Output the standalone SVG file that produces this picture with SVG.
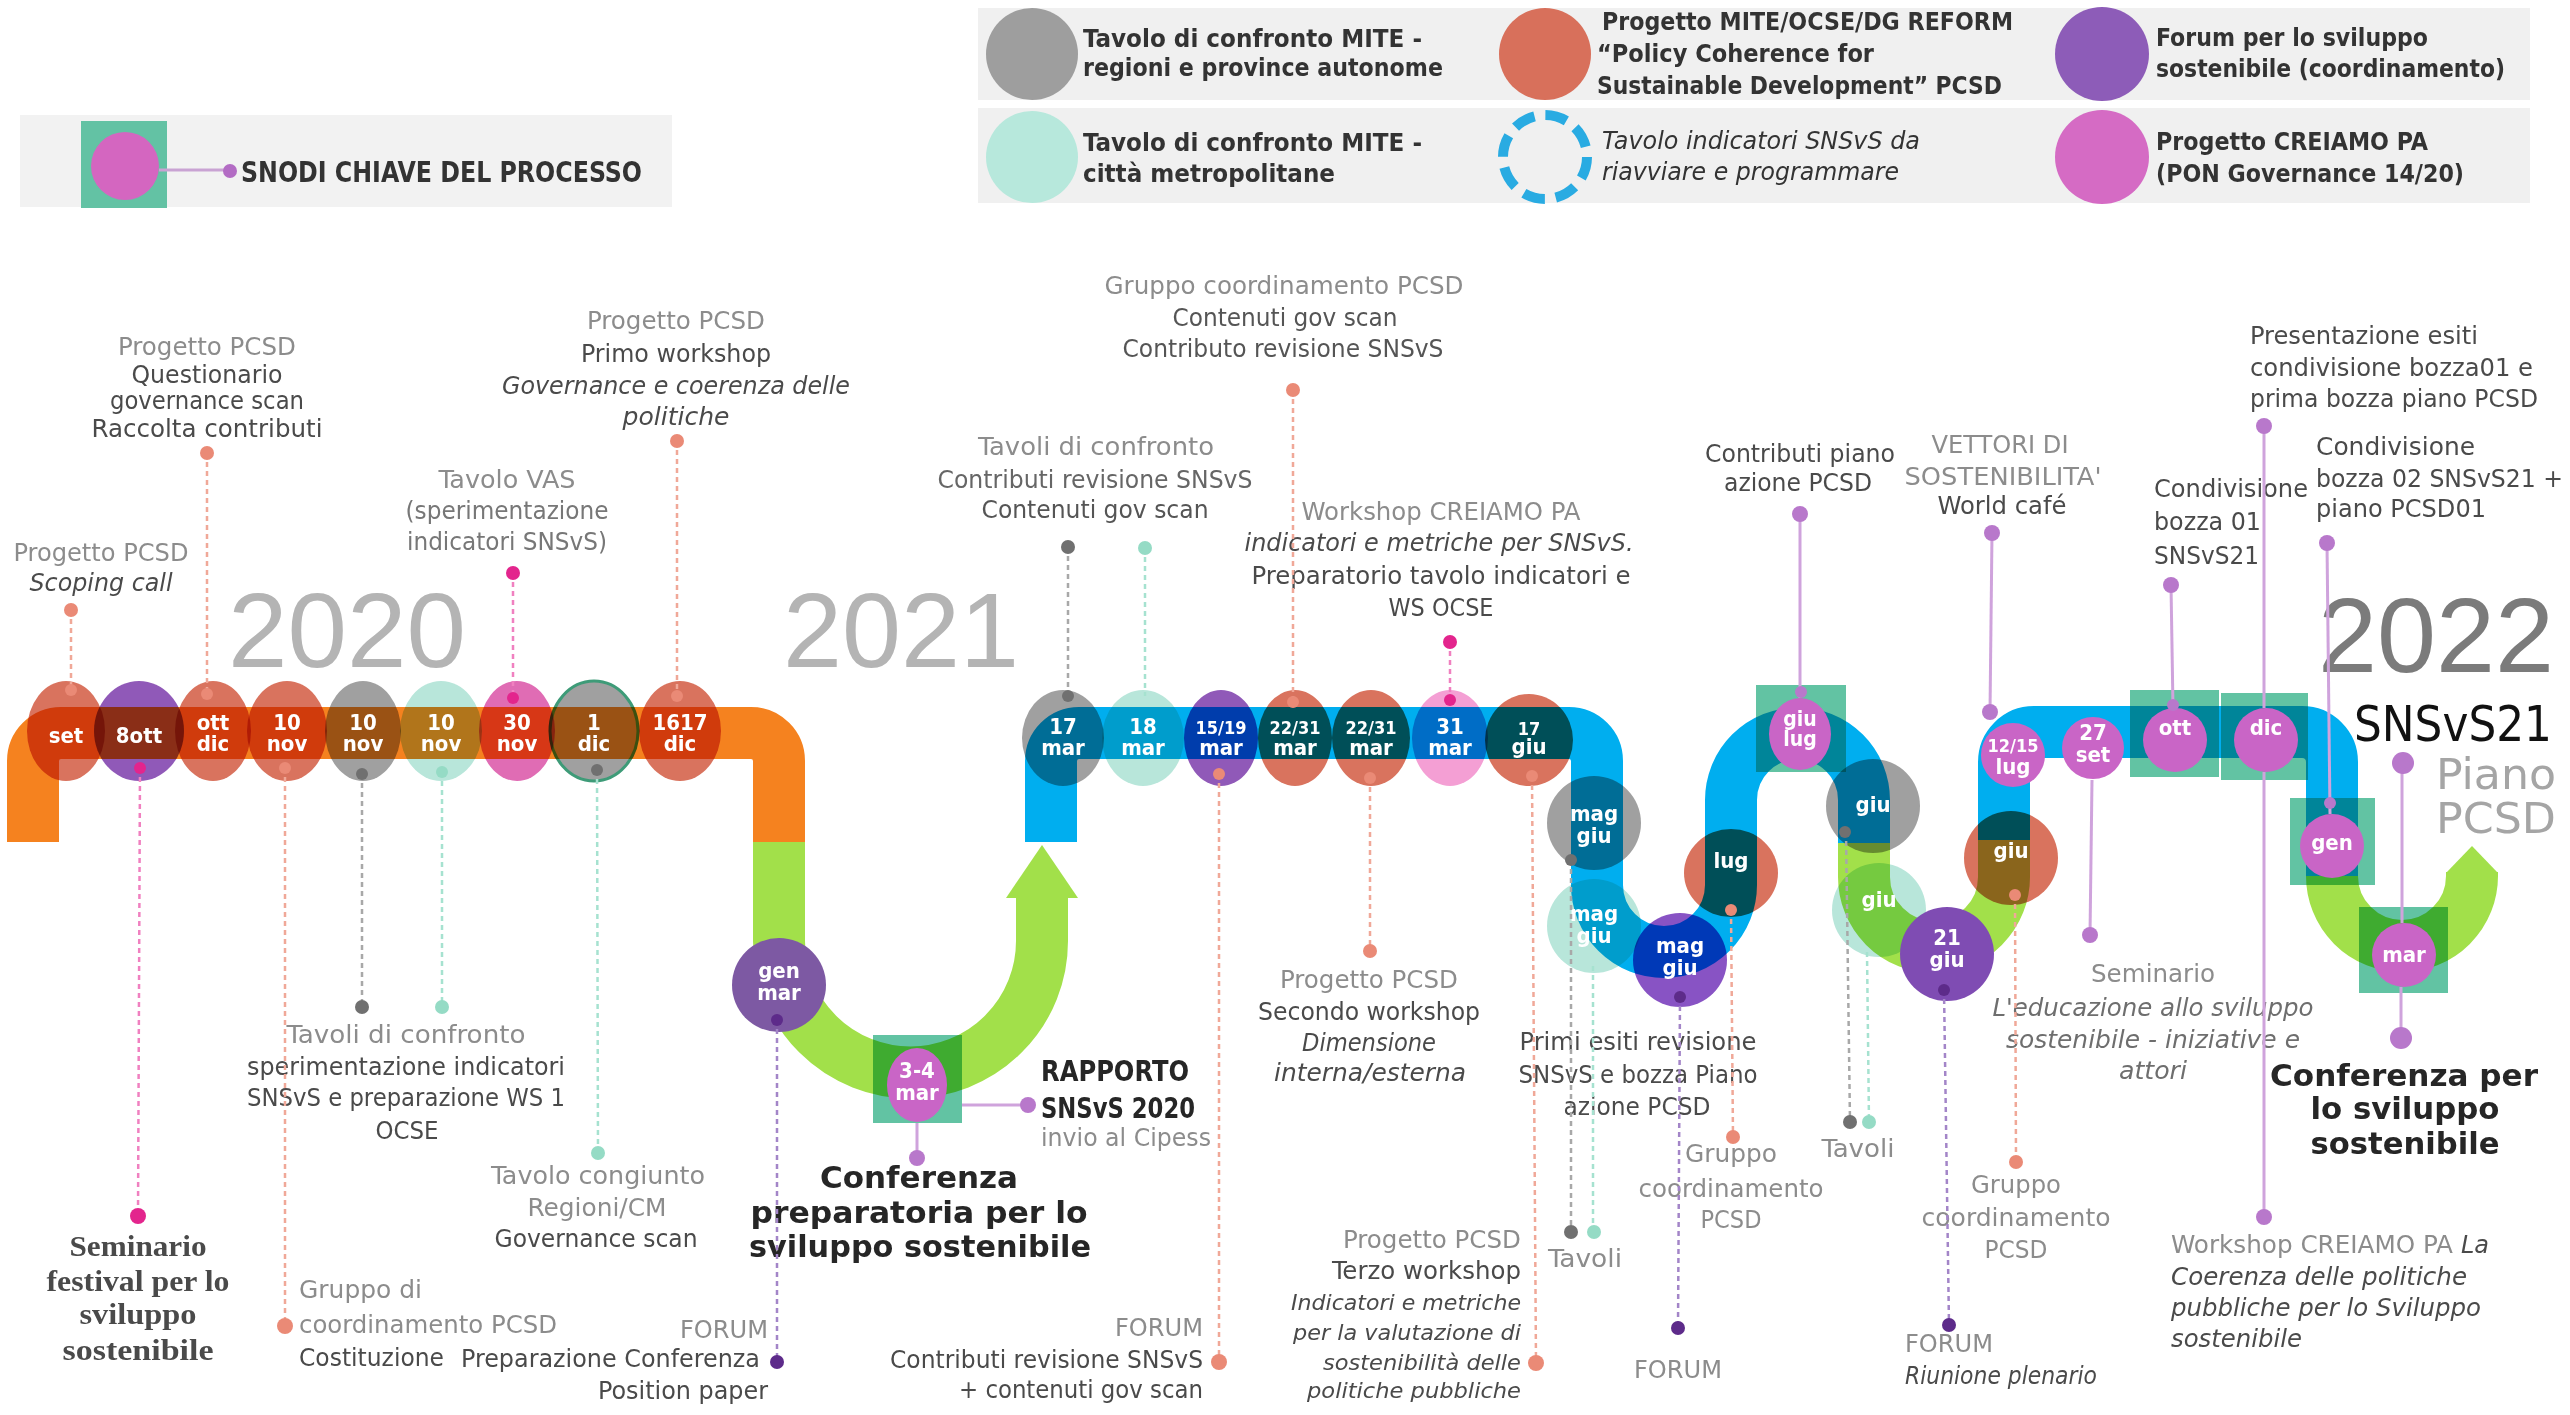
<svg xmlns="http://www.w3.org/2000/svg" width="2570" height="1415" viewBox="0 0 2570 1415">
<style>
.t{font-family:"DejaVu Sans Condensed","DejaVu Sans","Liberation Sans",sans-serif;font-size:25px}
.s{font-family:"Liberation Serif",serif;font-weight:bold;font-size:29px;fill:#4a4a4a;text-anchor:middle}
.g{fill:#8c8c8c}
.g2{fill:#777}
.d{fill:#4a4a4a}
.k{fill:#262626}
.i{font-style:italic}
.b{font-weight:bold}
.m{text-anchor:middle}
.e{text-anchor:end}
.w{font-family:"DejaVu Sans Condensed","DejaVu Sans",sans-serif;fill:#fff;font-weight:bold;text-anchor:middle;font-size:22px}
.sm{font-size:18px}
.mb{mix-blend-mode:multiply}
.band{fill:none;stroke-width:52}
.dl{fill:none;stroke-width:2.5;stroke-dasharray:5 4}
.sl{fill:none;stroke-width:3}
.lg{font-family:"DejaVu Sans Condensed","DejaVu Sans",sans-serif;font-size:24px;font-weight:bold;fill:#333}
.yr{font-family:"Liberation Sans","DejaVu Sans",sans-serif;font-size:106px}
.cs{stroke:#f0a898}.cm{stroke:#f080c0}.cg{stroke:#a8a8a8}.ct{stroke:#a6e2d0}.cp{stroke:#a385c8}.cl{stroke:#cfa3dc}
.fs{fill:#ea8a76}.fm{fill:#e3258d}.fg{fill:#707070}.ft{fill:#95dbc5}.fp{fill:#5d2b8a}.fl{fill:#b878cb}
.sal{fill:#d9735e}.pur{fill:#9059b8}.gry{fill:#a0a0a0}.mnt{fill:#b8e6da}.mag{fill:#c965c6}.sq{fill:#62c3a3}
</style>
<rect width="2570" height="1415" fill="#fff"/>

<g id="legend-key">
<rect x="20" y="115" width="652" height="92" fill="#f2f2f2"/>
<rect x="81" y="121" width="86" height="87" fill="#63c2a4"/>
<circle cx="125" cy="166" r="34" fill="#d466c0"/>
<line x1="159" y1="170" x2="230" y2="170" stroke="#c9a3d3" stroke-width="3"/>
<circle cx="230" cy="171" r="7" fill="#b36cc4"/>
<text x="241" y="182" class="lg" style="font-size:28px" textLength="401" lengthAdjust="spacingAndGlyphs">SNODI CHIAVE DEL PROCESSO</text>
</g>

<g id="legend">
<rect x="978" y="8" width="1552" height="92" fill="#f0f0f0"/>
<rect x="978" y="108" width="1552" height="95" fill="#f0f0f0"/>
<circle cx="1032" cy="54" r="46" fill="#9e9e9e"/>
<text class="lg" x="1083" y="47" textLength="339" lengthAdjust="spacingAndGlyphs">Tavolo di confronto MITE -</text>
<text class="lg" x="1083" y="76" textLength="360" lengthAdjust="spacingAndGlyphs">regioni e province autonome</text>
<circle cx="1032" cy="157" r="46" fill="#b7e8dc"/>
<text class="lg" x="1083" y="151" textLength="339" lengthAdjust="spacingAndGlyphs">Tavolo di confronto MITE -</text>
<text class="lg" x="1083" y="182" textLength="252" lengthAdjust="spacingAndGlyphs">città metropolitane</text>
<circle cx="1545" cy="54" r="46" fill="#d8705b"/>
<text class="lg" x="1602" y="30" textLength="411" lengthAdjust="spacingAndGlyphs">Progetto MITE/OCSE/DG REFORM</text>
<text class="lg" x="1597" y="62" textLength="277" lengthAdjust="spacingAndGlyphs">“Policy Coherence for</text>
<text class="lg" x="1597" y="94" textLength="405" lengthAdjust="spacingAndGlyphs">Sustainable Development” PCSD</text>
<circle cx="1545" cy="157" r="42" fill="none" stroke="#29abe2" stroke-width="10" stroke-dasharray="22 11"/>
<text class="lg i" style="font-weight:normal" x="1602" y="149" textLength="318" lengthAdjust="spacingAndGlyphs">Tavolo indicatori SNSvS da</text>
<text class="lg i" style="font-weight:normal" x="1602" y="180" textLength="297" lengthAdjust="spacingAndGlyphs">riavviare e programmare</text>
<circle cx="2102" cy="54" r="47" fill="#8d5cb8"/>
<text class="lg" x="2156" y="46" textLength="272" lengthAdjust="spacingAndGlyphs">Forum per lo sviluppo</text>
<text class="lg" x="2156" y="77" textLength="349" lengthAdjust="spacingAndGlyphs">sostenibile (coordinamento)</text>
<circle cx="2102" cy="157" r="47" fill="#d56bc4"/>
<text class="lg" x="2156" y="150" textLength="272" lengthAdjust="spacingAndGlyphs">Progetto CREIAMO PA</text>
<text class="lg" x="2156" y="182" textLength="308" lengthAdjust="spacingAndGlyphs">(PON Governance 14/20)</text>
</g>

<g id="years">
<text class="yr" x="228" y="667" fill="#b4b4b4" textLength="238" lengthAdjust="spacingAndGlyphs">2020</text>
<text class="yr" x="783" y="667" fill="#b4b4b4" textLength="236" lengthAdjust="spacingAndGlyphs">2021</text>
<text class="yr" x="2318" y="672" fill="#7b7b7b" textLength="236" lengthAdjust="spacingAndGlyphs">2022</text>
</g>

<g id="timeline-band">
<path class="band" stroke="#f5821f" d="M33,842 V761 A28,28 0 0 1 61,733 H751 A28,28 0 0 1 779,761 V842"/>
<path class="band" stroke="#a2e04a" d="M779,842 V941 A131.5,131.5 0 0 0 1042,941 V897"/>
<polygon fill="#a2e04a" points="1006,898 1042,845 1078,898"/>
<path class="band" stroke="#00aeef" d="M1051,842 V761 A28,28 0 0 1 1079,733 H1569 A28,28 0 0 1 1597,761 V885 A67,67 0 0 0 1731,885 V800 A66.5,66.5 0 0 1 1864,800 V843"/>
<path class="band" stroke="#a2e04a" d="M1864,843 V877 A70,70 0 0 0 2004,877 V840"/>
<path class="band" stroke="#00aeef" d="M2004,840 V762 A30,30 0 0 1 2034,732 H2302 A30,30 0 0 1 2332,762 V876"/>
<path class="band" stroke="#a2e04a" d="M2332,876 A70,70 0 0 0 2472,876 V872"/>
<polygon fill="#a2e04a" points="2446,873 2472,846 2498,873"/>
</g>

<g id="n-set"><ellipse class="mb sal" cx="66" cy="731" rx="39" ry="50"/><text class="w" x="66" y="743">set</text>
<text class="t g m" x="101" y="561" textLength="175" lengthAdjust="spacingAndGlyphs">Progetto PCSD</text>
<text class="t d i m" x="101" y="591" textLength="143" lengthAdjust="spacingAndGlyphs">Scoping call</text></g>

<g id="n-8ott"><ellipse class="mb pur" cx="139" cy="731" rx="45" ry="50"/><text class="w" x="139" y="743">8ott</text>
<text class="s" x="138" y="1256" textLength="137" lengthAdjust="spacingAndGlyphs">Seminario</text>
<text class="s" x="138" y="1291" textLength="183" lengthAdjust="spacingAndGlyphs">festival per lo</text>
<text class="s" x="138" y="1324" textLength="117" lengthAdjust="spacingAndGlyphs">sviluppo</text>
<text class="s" x="138" y="1360" textLength="151" lengthAdjust="spacingAndGlyphs">sostenibile</text></g>

<g id="n-ottdic"><ellipse class="mb sal" cx="213" cy="731" rx="38" ry="50"/><text class="w" x="213" y="730">ott</text><text class="w" x="213" y="751">dic</text>
<text class="t g m" x="207" y="355" textLength="178" lengthAdjust="spacingAndGlyphs">Progetto PCSD</text>
<text class="t d m" x="207" y="383" textLength="151" lengthAdjust="spacingAndGlyphs">Questionario</text>
<text class="t d m" x="207" y="409" textLength="194" lengthAdjust="spacingAndGlyphs">governance scan</text>
<text class="t d m" x="207" y="437" textLength="231" lengthAdjust="spacingAndGlyphs">Raccolta contributi</text></g>

<g id="n-10nov-a"><ellipse class="mb sal" cx="287" cy="731" rx="40" ry="50"/><text class="w" x="287" y="730">10</text><text class="w" x="287" y="751">nov</text>
<text class="t g" x="299" y="1298" textLength="123" lengthAdjust="spacingAndGlyphs">Gruppo di</text>
<text class="t g" x="299" y="1333" textLength="258" lengthAdjust="spacingAndGlyphs">coordinamento PCSD</text>
<text class="t d" x="299" y="1366" textLength="145" lengthAdjust="spacingAndGlyphs">Costituzione</text></g>

<g id="n-10nov-b"><ellipse class="mb gry" cx="363" cy="731" rx="38" ry="50"/><text class="w" x="363" y="730">10</text><text class="w" x="363" y="751">nov</text>
<text class="t g m" x="406" y="1043" textLength="239" lengthAdjust="spacingAndGlyphs">Tavoli di confronto</text>
<text class="t d m" x="406" y="1075" textLength="318" lengthAdjust="spacingAndGlyphs">sperimentazione indicatori</text>
<text class="t d m" x="406" y="1106" textLength="318" lengthAdjust="spacingAndGlyphs">SNSvS e preparazione WS 1</text>
<text class="t d m" x="407" y="1139" textLength="63" lengthAdjust="spacingAndGlyphs">OCSE</text></g>

<g id="n-10nov-c"><ellipse class="mb mnt" cx="441" cy="731" rx="41" ry="50"/><text class="w" x="441" y="730">10</text><text class="w" x="441" y="751">nov</text></g>

<g id="n-30nov"><ellipse class="mb" fill="#e06cb4" cx="517" cy="731" rx="38" ry="50"/><text class="w" x="517" y="730">30</text><text class="w" x="517" y="751">nov</text>
<text class="t g m" x="507" y="488" textLength="137" lengthAdjust="spacingAndGlyphs">Tavolo VAS</text>
<text class="t g2 m" x="507" y="519" textLength="203" lengthAdjust="spacingAndGlyphs">(sperimentazione</text>
<text class="t g2 m" x="507" y="550" textLength="200" lengthAdjust="spacingAndGlyphs">indicatori SNSvS)</text></g>

<g id="n-1dic"><ellipse class="mb gry" cx="594" cy="731" rx="44" ry="50" stroke="#3e9b78" stroke-width="3"/><text class="w" x="594" y="730">1</text><text class="w" x="594" y="751">dic</text>
<text class="t g m" x="598" y="1184" textLength="214" lengthAdjust="spacingAndGlyphs">Tavolo congiunto</text>
<text class="t g m" x="597" y="1216" textLength="139" lengthAdjust="spacingAndGlyphs">Regioni/CM</text>
<text class="t d m" x="596" y="1247" textLength="203" lengthAdjust="spacingAndGlyphs">Governance scan</text></g>

<g id="n-1617dic"><ellipse class="mb sal" cx="680" cy="731" rx="41" ry="50"/><text class="w" x="680" y="730">1617</text><text class="w" x="680" y="751">dic</text>
<text class="t g m" x="676" y="329" textLength="178" lengthAdjust="spacingAndGlyphs">Progetto PCSD</text>
<text class="t d m" x="676" y="362" textLength="190" lengthAdjust="spacingAndGlyphs">Primo workshop</text>
<text class="t d i m" x="676" y="394" textLength="348" lengthAdjust="spacingAndGlyphs">Governance e coerenza delle</text>
<text class="t d i m" x="676" y="425" textLength="107" lengthAdjust="spacingAndGlyphs">politiche</text></g>

<g id="n-genmar"><circle fill="#7d59a3" cx="779" cy="985" r="47"/><text class="w" x="779" y="978">gen</text><text class="w" x="779" y="1000">mar</text>
<text class="t g e" x="768" y="1338" textLength="88" lengthAdjust="spacingAndGlyphs">FORUM</text>
<text class="t d e" x="760" y="1367" textLength="299" lengthAdjust="spacingAndGlyphs">Preparazione Conferenza</text>
<text class="t d e" x="768" y="1399" textLength="170" lengthAdjust="spacingAndGlyphs">Position paper</text></g>

<g id="n-34mar"><rect class="mb sq" x="873" y="1035" width="89" height="88"/><ellipse class="mag" cx="917" cy="1085" rx="30" ry="37"/><text class="w" x="917" y="1078">3-4</text><text class="w" x="917" y="1100">mar</text>
<text class="t k b" style="font-size:28px" x="1041" y="1081" textLength="148" lengthAdjust="spacingAndGlyphs">RAPPORTO</text>
<text class="t k b" style="font-size:28px" x="1041" y="1118" textLength="154" lengthAdjust="spacingAndGlyphs">SNSvS 2020</text>
<text class="t g" x="1041" y="1146" textLength="170" lengthAdjust="spacingAndGlyphs">invio al Cipess</text>
<text class="t k b m" style="font-size:31px" x="919" y="1188" textLength="198" lengthAdjust="spacingAndGlyphs">Conferenza</text>
<text class="t k b m" style="font-size:31px" x="919" y="1223" textLength="337" lengthAdjust="spacingAndGlyphs">preparatoria per lo</text>
<text class="t k b m" style="font-size:31px" x="920" y="1257" textLength="342" lengthAdjust="spacingAndGlyphs">sviluppo sostenibile</text></g>

<g id="n-17mar"><ellipse class="mb gry" cx="1063" cy="738" rx="41" ry="48"/><text class="w" x="1063" y="734">17</text><text class="w" x="1063" y="755">mar</text>
<text class="t g m" x="1096" y="455" textLength="236" lengthAdjust="spacingAndGlyphs">Tavoli di confronto</text>
<text class="t m" fill="#666" x="1095" y="488" textLength="315" lengthAdjust="spacingAndGlyphs">Contributi revisione SNSvS</text>
<text class="t m" fill="#555" x="1095" y="518" textLength="227" lengthAdjust="spacingAndGlyphs">Contenuti gov scan</text></g>

<g id="n-18mar"><ellipse class="mb mnt" cx="1143" cy="738" rx="41" ry="48"/><text class="w" x="1143" y="734">18</text><text class="w" x="1143" y="755">mar</text></g>

<g id="n-1519mar"><ellipse class="mb pur" cx="1221" cy="738" rx="37" ry="48"/><text class="w sm" x="1221" y="734">15/19</text><text class="w" x="1221" y="755">mar</text>
<text class="t g e" x="1203" y="1336" textLength="88" lengthAdjust="spacingAndGlyphs">FORUM</text>
<text class="t d e" x="1203" y="1368" textLength="313" lengthAdjust="spacingAndGlyphs">Contributi revisione SNSvS</text>
<text class="t d e" x="1203" y="1398" textLength="244" lengthAdjust="spacingAndGlyphs">+ contenuti gov scan</text></g>

<g id="n-2231mar-a"><ellipse class="mb sal" cx="1295" cy="738" rx="37" ry="48"/><text class="w sm" x="1295" y="734">22/31</text><text class="w" x="1295" y="755">mar</text>
<text class="t g m" x="1284" y="294" textLength="359" lengthAdjust="spacingAndGlyphs">Gruppo coordinamento PCSD</text>
<text class="t m" fill="#555" x="1285" y="326" textLength="225" lengthAdjust="spacingAndGlyphs">Contenuti gov scan</text>
<text class="t m" fill="#555" x="1283" y="357" textLength="321" lengthAdjust="spacingAndGlyphs">Contributo revisione SNSvS</text></g>

<g id="n-2231mar-b"><ellipse class="mb sal" cx="1371" cy="738" rx="39" ry="48"/><text class="w sm" x="1371" y="734">22/31</text><text class="w" x="1371" y="755">mar</text>
<text class="t g m" x="1369" y="988" textLength="178" lengthAdjust="spacingAndGlyphs">Progetto PCSD</text>
<text class="t d m" x="1369" y="1020" textLength="222" lengthAdjust="spacingAndGlyphs">Secondo workshop</text>
<text class="t d i m" x="1369" y="1051" textLength="134" lengthAdjust="spacingAndGlyphs">Dimensione</text>
<text class="t d i m" x="1370" y="1081" textLength="192" lengthAdjust="spacingAndGlyphs">interna/esterna</text></g>

<g id="n-31mar"><ellipse class="mb" fill="#f49fd4" cx="1450" cy="738" rx="38" ry="48"/><text class="w" x="1450" y="734">31</text><text class="w" x="1450" y="755">mar</text>
<text class="t g m" x="1441" y="520" textLength="279" lengthAdjust="spacingAndGlyphs">Workshop CREIAMO PA</text>
<text class="t d i m" x="1439" y="551" textLength="389" lengthAdjust="spacingAndGlyphs">indicatori e metriche per SNSvS.</text>
<text class="t d m" x="1441" y="584" textLength="379" lengthAdjust="spacingAndGlyphs">Preparatorio tavolo indicatori e</text>
<text class="t d m" x="1441" y="616" textLength="105" lengthAdjust="spacingAndGlyphs">WS OCSE</text></g>

<g id="n-17giu"><ellipse class="mb sal" cx="1529" cy="740" rx="44" ry="46"/><text class="w sm" x="1529" y="735">17</text><text class="w" x="1529" y="754">giu</text>
<text class="t g e" x="1521" y="1248" textLength="178" lengthAdjust="spacingAndGlyphs">Progetto PCSD</text>
<text class="t d e" x="1521" y="1279" textLength="189" lengthAdjust="spacingAndGlyphs">Terzo workshop</text>
<text class="t d i e" style="font-size:22px" x="1521" y="1310" textLength="230" lengthAdjust="spacingAndGlyphs">Indicatori e metriche</text>
<text class="t d i e" style="font-size:22px" x="1521" y="1340" textLength="228" lengthAdjust="spacingAndGlyphs">per la valutazione di</text>
<text class="t d i e" style="font-size:22px" x="1521" y="1370" textLength="198" lengthAdjust="spacingAndGlyphs">sostenibilità delle</text>
<text class="t d i e" style="font-size:22px" x="1521" y="1398" textLength="214" lengthAdjust="spacingAndGlyphs">politiche pubbliche</text></g>

<g id="n-maggiu-gray"><circle class="mb gry" cx="1594" cy="823" r="47"/><text class="w" x="1594" y="821">mag</text><text class="w" x="1594" y="843">giu</text>
<text class="t g m" x="1585" y="1267" textLength="74" lengthAdjust="spacingAndGlyphs">Tavoli</text></g>

<g id="n-maggiu-mint"><circle class="mb mnt" cx="1594" cy="926" r="47"/><text class="w" x="1594" y="921">mag</text><text class="w" x="1594" y="943">giu</text></g>

<g id="n-maggiu-forum"><circle class="mb" fill="#8853c4" cx="1680" cy="960" r="47"/><text class="w" x="1680" y="953">mag</text><text class="w" x="1680" y="975">giu</text>
<text class="t d m" x="1638" y="1050" textLength="237" lengthAdjust="spacingAndGlyphs">Primi esiti revisione</text>
<text class="t d m" x="1638" y="1083" textLength="239" lengthAdjust="spacingAndGlyphs">SNSvS e bozza Piano</text>
<text class="t d m" x="1637" y="1115" textLength="147" lengthAdjust="spacingAndGlyphs">azione PCSD</text>
<text class="t g m" x="1678" y="1378" textLength="88" lengthAdjust="spacingAndGlyphs">FORUM</text></g>

<g id="n-lug"><ellipse class="mb sal" cx="1731" cy="873" rx="47" ry="44"/><text class="w" x="1731" y="868">lug</text>
<text class="t g m" x="1731" y="1162" textLength="92" lengthAdjust="spacingAndGlyphs">Gruppo</text>
<text class="t g m" x="1731" y="1197" textLength="185" lengthAdjust="spacingAndGlyphs">coordinamento</text>
<text class="t g m" x="1731" y="1228" textLength="61" lengthAdjust="spacingAndGlyphs">PCSD</text></g>

<g id="n-giulug"><rect class="mb sq" x="1756" y="685" width="90" height="87"/><ellipse class="mag" cx="1800" cy="734" rx="31" ry="36"/><text class="w" style="font-size:21px" x="1800" y="726">giu</text><text class="w" style="font-size:21px" x="1800" y="746">lug</text>
<text class="t d m" x="1800" y="462" textLength="190" lengthAdjust="spacingAndGlyphs">Contributi piano</text>
<text class="t d m" x="1798" y="491" textLength="148" lengthAdjust="spacingAndGlyphs">azione PCSD</text></g>

<g id="n-giu-gray"><circle class="mb gry" cx="1873" cy="806" r="47"/><text class="w" x="1873" y="812">giu</text>
<text class="t g m" x="1858" y="1157" textLength="73" lengthAdjust="spacingAndGlyphs">Tavoli</text></g>

<g id="n-giu-mint"><circle class="mb mnt" cx="1879" cy="910" r="47"/><text class="w" x="1879" y="907">giu</text></g>

<g id="n-21giu"><circle fill="#7f4cb3" cx="1947" cy="954" r="47"/><text class="w" x="1947" y="945">21</text><text class="w" x="1947" y="967">giu</text>
<text class="t g" x="1905" y="1352" textLength="88" lengthAdjust="spacingAndGlyphs">FORUM</text>
<text class="t d i" x="1905" y="1384" textLength="192" lengthAdjust="spacingAndGlyphs">Riunione plenario</text></g>

<g id="n-giu-sal"><circle class="mb sal" cx="2011" cy="858" r="47"/><text class="w" x="2011" y="858">giu</text>
<text class="t g m" x="2016" y="1193" textLength="90" lengthAdjust="spacingAndGlyphs">Gruppo</text>
<text class="t g m" x="2016" y="1226" textLength="189" lengthAdjust="spacingAndGlyphs">coordinamento</text>
<text class="t g m" x="2016" y="1258" textLength="63" lengthAdjust="spacingAndGlyphs">PCSD</text></g>

<g id="n-1215lug"><circle class="mag" cx="2013" cy="755" r="32"/><text class="w sm" x="2013" y="752">12/15</text><text class="w" x="2013" y="774">lug</text>
<text class="t g m" x="2000" y="453" textLength="137" lengthAdjust="spacingAndGlyphs">VETTORI DI</text>
<text class="t g m" x="2003" y="485" textLength="197" lengthAdjust="spacingAndGlyphs">SOSTENIBILITA'</text>
<text class="t d m" x="2002" y="514" textLength="129" lengthAdjust="spacingAndGlyphs">World café</text></g>

<g id="n-27set"><circle class="mag" cx="2093" cy="748" r="31"/><text class="w" x="2093" y="740">27</text><text class="w" x="2093" y="762">set</text>
<text class="t g m" x="2153" y="982" textLength="124" lengthAdjust="spacingAndGlyphs">Seminario</text>
<text class="t i m" fill="#6e6e6e" x="2153" y="1016" textLength="321" lengthAdjust="spacingAndGlyphs">L'educazione allo sviluppo</text>
<text class="t i m" fill="#6e6e6e" x="2153" y="1048" textLength="294" lengthAdjust="spacingAndGlyphs">sostenibile - iniziative e</text>
<text class="t i m" fill="#6e6e6e" x="2153" y="1079" textLength="68" lengthAdjust="spacingAndGlyphs">attori</text></g>

<g id="n-ott"><rect class="mb sq" x="2130" y="690" width="89" height="87"/><circle class="mag" cx="2175" cy="740" r="32"/><text class="w" x="2175" y="735">ott</text>
<text class="t d" x="2154" y="497" textLength="154" lengthAdjust="spacingAndGlyphs">Condivisione</text>
<text class="t d" x="2154" y="530" textLength="107" lengthAdjust="spacingAndGlyphs">bozza 01</text>
<text class="t d" x="2154" y="564" textLength="105" lengthAdjust="spacingAndGlyphs">SNSvS21</text></g>

<g id="n-dic"><rect class="mb sq" x="2221" y="693" width="87" height="87"/><circle class="mag" cx="2266" cy="740" r="32"/><text class="w" x="2266" y="735">dic</text>
<text class="t d" x="2250" y="344" textLength="228" lengthAdjust="spacingAndGlyphs">Presentazione esiti</text>
<text class="t d" x="2250" y="376" textLength="283" lengthAdjust="spacingAndGlyphs">condivisione bozza01  e</text>
<text class="t d" x="2250" y="407" textLength="288" lengthAdjust="spacingAndGlyphs">prima bozza piano PCSD</text>
<text class="t g" x="2171" y="1253" textLength="282" lengthAdjust="spacingAndGlyphs">Workshop CREIAMO PA</text>
<text class="t d i" x="2461" y="1253" textLength="28" lengthAdjust="spacingAndGlyphs">La</text>
<text class="t d i" x="2171" y="1285" textLength="296" lengthAdjust="spacingAndGlyphs">Coerenza delle politiche</text>
<text class="t d i" x="2171" y="1316" textLength="310" lengthAdjust="spacingAndGlyphs">pubbliche per lo Sviluppo</text>
<text class="t d i" x="2171" y="1347" textLength="131" lengthAdjust="spacingAndGlyphs">sostenibile</text></g>

<g id="n-gen"><rect class="mb sq" x="2290" y="798" width="85" height="87"/><circle class="mag" cx="2332" cy="846" r="32"/><text class="w" x="2332" y="850">gen</text>
<text class="t d" x="2316" y="455" textLength="159" lengthAdjust="spacingAndGlyphs">Condivisione</text>
<text class="t d" x="2316" y="487" textLength="247" lengthAdjust="spacingAndGlyphs">bozza 02 SNSvS21 +</text>
<text class="t d" x="2316" y="517" textLength="170" lengthAdjust="spacingAndGlyphs">piano PCSD01</text></g>

<g id="n-mar"><rect class="mb sq" x="2359" y="907" width="89" height="86"/><circle class="mag" cx="2404" cy="955" r="32"/><text class="w" x="2404" y="962">mar</text>
<text class="t" fill="#111" style="font-size:50px" x="2354" y="741" textLength="198" lengthAdjust="spacingAndGlyphs">SNSvS21</text>
<text class="t" fill="#a5a5a5" style="font-size:42px" x="2436" y="789" textLength="120" lengthAdjust="spacingAndGlyphs">Piano</text>
<text class="t" fill="#a5a5a5" style="font-size:42px" x="2436" y="833" textLength="120" lengthAdjust="spacingAndGlyphs">PCSD</text>
<text class="t k b m" style="font-size:31px" x="2404" y="1086" textLength="268" lengthAdjust="spacingAndGlyphs">Conferenza per</text>
<text class="t k b m" style="font-size:31px" x="2405" y="1119" textLength="189" lengthAdjust="spacingAndGlyphs">lo sviluppo</text>
<text class="t k b m" style="font-size:31px" x="2405" y="1154" textLength="189" lengthAdjust="spacingAndGlyphs">sostenibile</text></g>

<g id="connectors">
<g><path class="dl cs" d="M71,610V690"/><circle class="fs" cx="71" cy="610" r="7"/><circle class="fs" cx="71" cy="690" r="6"/></g>
<g><path class="dl cm" d="M140,768L138,1216"/><circle class="fm" cx="140" cy="768" r="6"/><circle class="fm" cx="138" cy="1216" r="8"/></g>
<g><path class="dl cs" d="M207,453V694"/><circle class="fs" cx="207" cy="453" r="7"/><circle class="fs" cx="207" cy="694" r="6"/></g>
<g><path class="dl cs" d="M285,768V1326"/><circle class="fs" cx="285" cy="768" r="6"/><circle class="fs" cx="285" cy="1326" r="8"/></g>
<g><path class="dl cg" d="M362,774V1007"/><circle class="fg" cx="362" cy="774" r="6"/><circle class="fg" cx="362" cy="1007" r="7"/></g>
<g><path class="dl ct" d="M442,772V1007"/><circle class="ft" cx="442" cy="772" r="6"/><circle class="ft" cx="442" cy="1007" r="7"/></g>
<g><path class="dl cm" d="M513,573V698"/><circle class="fm" cx="513" cy="573" r="7"/><circle class="fm" cx="513" cy="698" r="6"/></g>
<g><path class="dl ct" d="M597,770L598,1153"/><circle class="fg" cx="597" cy="770" r="6"/><circle class="ft" cx="598" cy="1153" r="7"/></g>
<g><path class="dl cs" d="M677,441V696"/><circle class="fs" cx="677" cy="441" r="7"/><circle class="fs" cx="677" cy="696" r="6"/></g>
<g><path class="dl cp" d="M777,1020V1362"/><circle class="fp" cx="777" cy="1020" r="6"/><circle class="fp" cx="777" cy="1362" r="7"/></g>
<g><path class="dl cg" d="M1068,547V696"/><circle class="fg" cx="1068" cy="547" r="7"/><circle class="fg" cx="1068" cy="696" r="6"/></g>
<g><path class="dl ct" d="M1145,548V696"/><circle class="ft" cx="1145" cy="548" r="7"/></g>
<g><path class="dl cs" d="M1219,774V1362"/><circle class="fs" cx="1219" cy="774" r="6"/><circle class="fs" cx="1219" cy="1362" r="8"/></g>
<g><path class="dl cs" d="M1293,390V702"/><circle class="fs" cx="1293" cy="390" r="7"/><circle class="fs" cx="1293" cy="702" r="6"/></g>
<g><path class="dl cs" d="M1370,778V951"/><circle class="fs" cx="1370" cy="778" r="6"/><circle class="fs" cx="1370" cy="951" r="7"/></g>
<g><path class="dl cm" d="M1450,642V700"/><circle class="fm" cx="1450" cy="642" r="7"/><circle class="fm" cx="1450" cy="700" r="6"/></g>
<g><path class="dl cs" d="M1532,776L1536,1363"/><circle class="fs" cx="1532" cy="776" r="6"/><circle class="fs" cx="1536" cy="1363" r="8"/></g>
<g><path class="dl cg" d="M1571,860V1232"/><circle class="fg" cx="1571" cy="860" r="6"/><circle class="fg" cx="1571" cy="1232" r="7"/></g>
<g><path class="dl ct" d="M1593,966V1232"/><circle class="ft" cx="1594" cy="1232" r="7"/></g>
<g><path class="dl cp" d="M1680,997L1678,1328"/><circle class="fp" cx="1680" cy="997" r="6"/><circle class="fp" cx="1678" cy="1328" r="7"/></g>
<g><path class="dl cs" d="M1731,910L1733,1137"/><circle class="fs" cx="1731" cy="910" r="6"/><circle class="fs" cx="1733" cy="1137" r="7"/></g>
<g><path class="dl cg" d="M1846,832L1850,1122"/><circle class="fg" cx="1845" cy="832" r="6"/><circle class="fg" cx="1850" cy="1122" r="7"/></g>
<g><path class="dl ct" d="M1867,952L1869,1122"/><circle class="ft" cx="1869" cy="1122" r="7"/></g>
<g><path class="dl cp" d="M1944,990L1949,1325"/><circle class="fp" cx="1944" cy="990" r="6"/><circle class="fp" cx="1949" cy="1325" r="7"/></g>
<g><path class="dl cs" d="M2015,895L2016,1162"/><circle class="fs" cx="2015" cy="895" r="6"/><circle class="fs" cx="2016" cy="1162" r="7"/></g>
<g><path class="sl cl" d="M1800,514V698"/><circle class="fl" cx="1800" cy="514" r="8"/><circle class="fl" cx="1801" cy="692" r="6"/></g>
<g><path class="sl cl" d="M1992,533L1990,712"/><circle class="fl" cx="1992" cy="533" r="8"/><circle class="fl" cx="1990" cy="712" r="8"/></g>
<g><path class="sl cl" d="M2092,780L2090,935"/><circle class="fl" cx="2090" cy="935" r="8"/></g>
<g><path class="sl cl" d="M2171,585L2173,708"/><circle class="fl" cx="2171" cy="585" r="8"/><circle class="fl" cx="2173" cy="705" r="6"/></g>
<g><path class="sl cl" d="M2264,426V708M2264,772V1217"/><circle class="fl" cx="2264" cy="426" r="8"/><circle class="fl" cx="2264" cy="1217" r="8"/></g>
<g><path class="sl cl" d="M2327,543L2330,814"/><circle class="fl" cx="2327" cy="543" r="8"/><circle class="fl" cx="2330" cy="803" r="6"/></g>
<g><path class="sl cl" d="M2402,763V923M2401,987V1038"/><circle class="fl" cx="2403" cy="763" r="11"/><circle class="fl" cx="2401" cy="1038" r="11"/></g>
<g><path class="sl cl" d="M962,1105H1028"/><circle class="fl" cx="1028" cy="1105" r="8"/></g>
<g><path class="sl cl" d="M917,1123V1158"/><circle class="fl" cx="917" cy="1158" r="8"/></g>
</g>
</svg>
